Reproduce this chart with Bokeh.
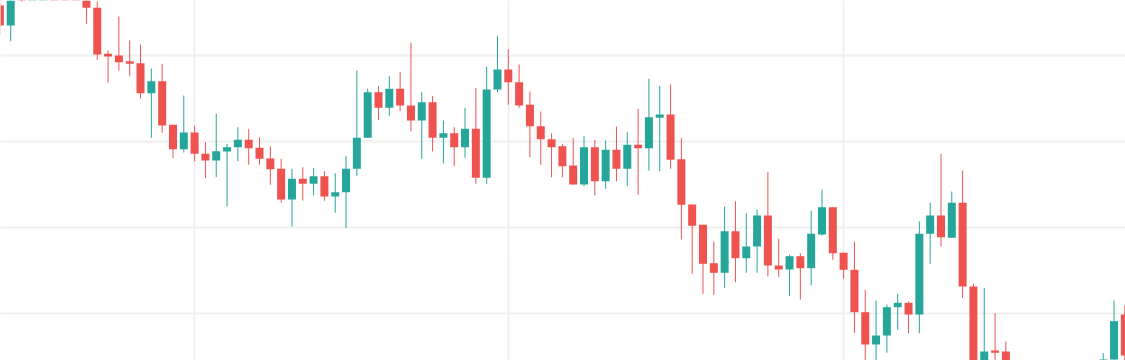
import pandas as pd
from bokeh.plotting import figure
from bokeh.models import ColumnDataSource, Range1d, FixedTicker, MonthsTicker
from bokeh.embed import file_html
from bokeh.resources import INLINE

# ---- data (daily candles) ----
dates = pd.date_range("2024-01-14", periods=105, freq="D")

opens = [49.5, 47.5, 52.5, 53.0, 55.0, 57.0, 56.0, 54.0, 50.8, 49.27,
         44.67, 44.5, 43.93, 43.73, 40.73, 41.93, 37.57, 35.13, 36.8, 34.67,
         34.0, 34.9, 35.33, 36.07, 35.27, 34.2, 33.17, 30.1, 32.17, 31.67,
         32.43, 30.4, 30.83, 33.17, 36.27, 40.83, 39.27, 41.17, 39.5, 38.0,
         39.83, 36.27, 36.73, 35.33, 37.17, 32.27, 41.1, 43.1, 41.83, 39.57,
         37.43, 36.13, 35.43, 33.5, 31.6, 35.33, 31.93, 35.07, 33.17, 35.57,
         35.23, 38.27, 38.6, 34.13, 29.6, 27.57, 23.73, 22.77, 26.93, 24.23,
         25.4, 28.5, 23.5, 23.1, 24.43, 23.23, 26.6, 29.33, 24.77, 23.07,
         18.83, 15.6, 16.5, 19.33, 19.77, 18.6, 26.67, 28.5, 26.27, 29.77,
         21.4, 13.0, 15.0, 14.9, 11.5, 12.2, 10.8, 9.5, 10.5, 10.0,
         11.2, 12.5, 11.5, 14.1, 18.6]
highs = [50.3, 51.2, 53.5, 55.8, 58.0, 57.6, 56.7, 54.4, 51.4, 49.9,
         45.0, 48.4, 46.0, 45.6, 43.2, 43.67, 37.57, 40.5, 37.47, 35.83,
         38.67, 35.67, 37.33, 37.17, 36.33, 35.4, 34.17, 33.17, 33.33, 33.23,
         32.93, 32.73, 34.43, 43.0, 41.17, 41.43, 42.43, 42.83, 45.77, 40.83,
         40.43, 38.0, 37.33, 39.27, 41.27, 43.4, 46.47, 45.13, 43.6, 40.9,
         38.9, 36.73, 35.67, 36.23, 36.43, 36.07, 36.0, 37.4, 36.83, 39.17,
         42.17, 41.47, 41.6, 36.23, 29.6, 27.57, 25.9, 29.4, 29.93, 28.73,
         29.1, 32.83, 26.17, 24.57, 24.73, 29.0, 31.1, 29.33, 24.77, 25.9,
         21.07, 20.0, 19.6, 20.67, 19.9, 27.9, 29.77, 34.67, 30.9, 33.0,
         21.67, 21.27, 18.73, 15.9, 13.0, 12.8, 11.5, 11.2, 11.5, 12.0,
         13.2, 13.4, 14.73, 20.0, 19.5]
lows = [46.57, 45.93, 49.9, 52.6, 54.5, 54.8, 52.8, 52.2, 47.67, 44.07,
        41.77, 43.0, 42.47, 40.17, 36.27, 36.77, 34.23, 34.8, 33.93, 32.23,
        32.33, 29.4, 33.93, 33.57, 33.57, 31.57, 29.8, 27.4, 30.0, 30.5,
        29.97, 28.77, 27.23, 32.43, 36.27, 38.07, 38.47, 38.93, 36.9, 34.17,
        34.9, 33.73, 33.43, 34.27, 31.67, 31.67, 40.83, 39.57, 39.27, 34.33,
        33.57, 32.33, 32.33, 31.6, 31.43, 30.5, 31.17, 31.93, 31.43, 30.57,
        33.0, 32.93, 33.17, 26.1, 22.67, 20.67, 20.57, 21.27, 21.83, 22.77,
        22.77, 22.4, 22.33, 20.43, 20.1, 21.5, 26.5, 24.07, 22.17, 16.77,
        13.5, 13.2, 14.77, 17.07, 16.73, 16.73, 23.67, 25.4, 26.27, 20.23,
        12.0, 12.2, 12.5, 10.8, 10.5, 10.0, 8.5, 8.8, 9.0, 9.4,
        10.5, 10.8, 11.0, 13.5, 13.8]
closes = [47.5, 50.6, 51.2, 55.0, 57.0, 56.0, 54.0, 52.6, 49.27, 44.6,
          44.4, 43.83, 43.67, 40.73, 41.93, 37.5, 35.13, 36.8, 34.67, 34.0,
          34.93, 35.33, 36.07, 35.23, 34.17, 33.13, 30.1, 32.17, 31.67, 32.43,
          30.4, 30.83, 33.17, 36.27, 40.83, 39.27, 41.17, 39.5, 38.0, 39.83,
          36.27, 36.73, 35.33, 37.17, 32.27, 41.1, 43.1, 41.83, 39.5, 37.43,
          36.13, 35.33, 33.43, 31.6, 35.33, 31.93, 35.07, 33.17, 35.57, 35.23,
          38.33, 38.6, 34.07, 29.57, 27.47, 23.67, 22.77, 26.93, 24.23, 25.4,
          28.5, 23.5, 23.1, 24.43, 23.23, 26.67, 29.33, 24.73, 23.07, 18.83,
          15.6, 16.5, 19.33, 19.77, 18.6, 26.67, 28.5, 26.33, 29.77, 21.4,
          12.8, 14.9, 14.77, 11.5, 12.2, 10.8, 9.5, 10.5, 10.0, 11.2,
          12.5, 11.5, 14.1, 17.93, 14.5]

price_grid_levels = [44.5, 35.89, 27.28, 18.67]

UP = "#26a69a"
DOWN = "#ef5350"

colors = [UP if c >= o else DOWN for o, c in zip(opens, closes)]
source = ColumnDataSource(dict(
    date=dates, open=opens, high=highs, low=lows, close=closes,
    top=[max(o, c) for o, c in zip(opens, closes)],
    bottom=[min(o, c) for o, c in zip(opens, closes)],
    color=colors,
))

W, H = 1125, 360
day = pd.Timedelta(days=1)
px_per_day = 10.817
x_start = dates[0] + 0.0555 * day
x_end = x_start + (W / px_per_day) * day
y_top = 50.0
y_bottom = y_top - H * 0.1

p = figure(width=W, height=H, x_axis_type="datetime",
           x_range=Range1d(x_start, x_end), y_range=Range1d(y_bottom, y_top),
           toolbar_location=None, output_backend="svg",
           min_border=0, outline_line_color=None,
           background_fill_color="white", border_fill_color="white")

p.xaxis.visible = False
p.yaxis.visible = False
p.xgrid.ticker = MonthsTicker(months=list(range(12)))
p.ygrid.ticker = FixedTicker(ticks=price_grid_levels)
for g in (p.xgrid, p.ygrid):
    g.grid_line_color = "#f0f0f0"
    g.grid_line_width = 2

body_w = 0.74 * 24 * 60 * 60 * 1000

p.segment(x0="date", y0="high", x1="date", y1="low", source=source,
          line_color="color", line_width=1)
p.vbar(x="date", width=body_w, top="top", bottom="bottom", source=source,
       fill_color="color", line_color=None)

open("out.html", "w").write(file_html(p, INLINE))
